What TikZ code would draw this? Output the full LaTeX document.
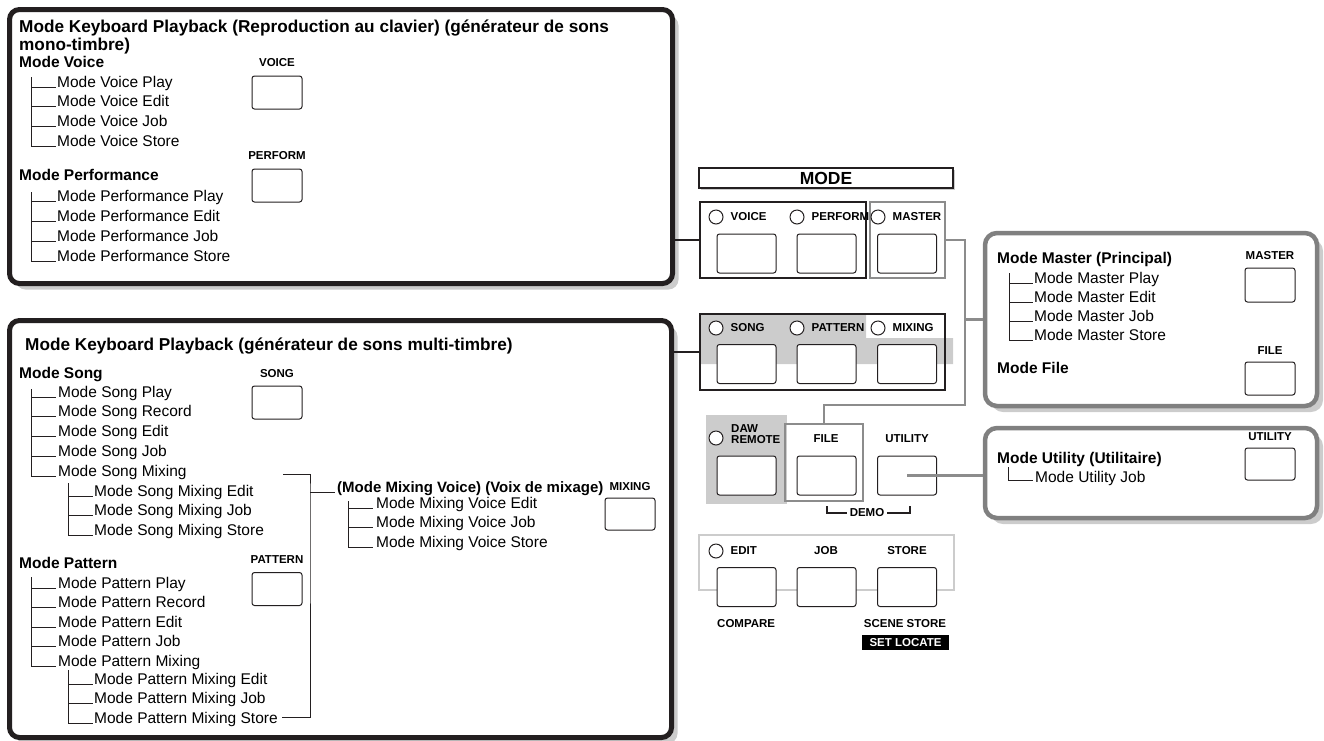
\documentclass[tikz,border=0pt]{standalone}
\usepackage{fontspec}
\setmainfont{Liberation Sans}
\usetikzlibrary{shadows,positioning}

\definecolor{ink}{HTML}{231F20}
\definecolor{panelgray}{gray}{0.80}
\definecolor{wiregray}{gray}{0.55}
\definecolor{framegray}{gray}{0.50}
\definecolor{shade}{gray}{0.80}

\newcommand{\itemsize}{\fontsize{15.5}{18}\selectfont}
\newcommand{\keysize}{\bfseries\fontsize{11.5}{12}\selectfont}

\begin{document}
\begin{tikzpicture}[x=1pt,y=-1pt,
    every node/.style={inner sep=0pt},
    bigbox/.style={draw=ink, line width=5pt, rounded corners=10pt, fill=white,
        drop shadow={shadow xshift=6pt, shadow yshift=-6pt, fill=shade, opacity=1}},
    sidebox/.style={bigbox, draw=framegray, line width=4.5pt, rounded corners=12pt},
    title/.style={anchor=base west, font=\bfseries\fontsize{17.2}{18}\selectfont},
    head/.style={anchor=base west, font=\bfseries\itemsize},
    item/.style={anchor=base west, font=\itemsize},
    tree/.style={draw=ink, line width=0.9pt},
    keylbl/.style={font=\keysize},
    smallkey/.style={draw=ink, line width=1pt, rounded corners=2.5pt, fill=white,
        minimum width=50pt, minimum height=33pt},
    key/.style={smallkey, minimum width=59pt, minimum height=39pt},
    led/.style={circle, draw=ink, line width=1pt, fill=white, minimum size=14pt},
    group/.style={draw=ink, line width=2pt},
    graygroup/.style={draw=wiregray, line width=2pt},
    wire/.style={draw=ink, line width=1.8pt},
    graywire/.style={draw=wiregray, line width=2.5pt}]
    \useasboundingbox (0,0) rectangle (1324,740);

    % mono-timbre
    \node[bigbox, anchor=north west, minimum width=663pt, minimum height=274pt] (mono) at (7,7) {};
    \node[title] (monotitle) at (19,32) {Mode Keyboard Playback (Reproduction au clavier) (générateur de sons};
    \node[title] (monotitleb) at (19,50) {mono-timbre)};
    \node[head] (voicehead) at (19,67) {Mode Voice};
    \coordinate (voicetree) at (31,77);
    \foreach \w [count=\i] in {Play,Edit,Job,Store} {
        \node[item] (voice\i) at (57,{67.3+19.7*\i}) {Mode Voice \w};
        \draw[tree] (voicetree) |- ([xshift=-1pt]voice\i.base west);
    }
    \node[keylbl] (voicelbl) at (277,63) {VOICE};
    \node[smallkey] (voicekey) at (277,92.5) {};
    \node[keylbl] (perflbl) at (277,156) {PERFORM};
    \node[smallkey] (perfkey) at (277,185.5) {};
    \node[head] (perfhead) at (19,180) {Mode Performance};
    \coordinate (perftree) at (31,192);
    \foreach \w [count=\i] in {Play,Edit,Job,Store} {
        \node[item] (perf\i) at (57,{181+20*\i}) {Mode Performance \w};
        \draw[tree] (perftree) |- ([xshift=-1pt]perf\i.base west);
    }

    % multi-timbre
    \node[bigbox, anchor=north west, minimum width=662pt, minimum height=417pt] (multi) at (7,318) {};
    \node[title] (multititle) at (25,350) {Mode Keyboard Playback (générateur de sons multi-timbre)};
    \node[head] (songhead) at (19,378) {Mode Song};
    \node[keylbl] (songlbl) at (277,374) {SONG};
    \node[smallkey] (songkey) at (277,402.5) {};
    \coordinate (songtree) at (31,389);
    \foreach \w [count=\i] in {Play,Record,Edit,Job,Mixing} {
        \node[item] (song\i) at (58,{377.25+19.75*\i}) {Mode Song \w};
        \draw[tree] (songtree) |- ([xshift=-2pt]song\i.base west);
    }
    \coordinate (songmixtree) at (68,483);
    \foreach \w [count=\i] in {Edit,Job,Store} {
        \node[item] (songmix\i) at (94,{476.5+19.5*\i}) {Mode Song Mixing \w};
        \draw[tree] (songmixtree) |- ([xshift=-1pt]songmix\i.base west);
    }
    \node[head] (pathead) at (19,568) {Mode Pattern};
    \node[keylbl] (patlbl) at (277,560) {PATTERN};
    \node[smallkey] (patkey) at (277,589) {};
    \coordinate (pattree) at (31,577);
    \foreach \w [count=\i] in {Play,Record,Edit,Job,Mixing} {
        \node[item] (pat\i) at (58,{568.5+19.5*\i}) {Mode Pattern \w};
        \draw[tree] (pattree) |- ([xshift=-2pt]pat\i.base west);
    }
    \coordinate (patmixtree) at (68,670);
    \foreach \w [count=\i] in {Edit,Job,Store} {
        \node[item] (patmix\i) at (94,{664.5+19.5*\i}) {Mode Pattern Mixing \w};
        \draw[tree] (patmixtree) |- ([xshift=-1pt]patmix\i.base west);
    }
    \coordinate (brtop) at (283,474);
    \coordinate (brmid) at (310,492);
    \coordinate (brbot) at (282,717);
    \draw[tree] (brtop) -| (brmid) |- (brbot);
    \node[head, font=\bfseries\fontsize{15}{18}\selectfont] (mixhead) at (337,492) {(Mode Mixing Voice) (Voix de mixage)};
    \draw[tree] (brmid) -- ([xshift=-2pt]mixhead.base west);
    \node[keylbl] (mixlbl) at (630,487) {MIXING};
    \node[smallkey, minimum height=32pt] (mixkey) at (630,514) {};
    \coordinate (mixtree) at (348,501);
    \foreach \w [count=\i] in {Edit,Job,Store} {
        \node[item] (mixv\i) at (376,{488.5+19.5*\i}) {Mode Mixing Voice \w};
        \draw[tree] (mixtree) |- ([xshift=-3pt]mixv\i.base west);
    }

    % panel
    \node[draw=ink, line width=1.2pt, minimum width=254pt, minimum height=20pt, fill=white,
        font=\bfseries\fontsize{17.5}{18}\selectfont,
        drop shadow={shadow xshift=2pt, shadow yshift=-2pt, fill=shade, opacity=1}] (mode) at (826,178) {MODE};
    \node[group, minimum width=166pt, minimum height=76pt] (grpvoice) at (783,240) {};
    \node[graygroup, minimum width=75pt, minimum height=76pt] (grpmaster) at (907.5,240) {};
    \foreach \n/\x/\w in {voice/716/VOICE, perform/797/PERFORM, master/878/MASTER} {
        \node[led] (led\n) at (\x,217) {};
        \node[keylbl, right=7pt of led\n] (lbl\n) {\w};
    }
    \foreach \n/\x in {voice/746.5, perform/826.5, master/907}
        \node[key] (key\n) at (\x,253.5) {};

    \fill[panelgray] (701,315) -- (866,315) -- (866,338) -- (953,338) -- (953,364) -- (701,364) -- cycle;
    \node[group, minimum width=245pt, minimum height=76pt] (grpsong) at (822.5,352) {};
    \foreach \n/\x/\w in {song/716/SONG, pattern/797/PATTERN, mixing/878/MIXING} {
        \node[led] (led\n) at (\x,328) {};
        \node[keylbl, right=7pt of led\n] (lbl\n) {\w};
    }
    \foreach \n/\x in {song/746.5, pattern/826.5, mixing/907}
        \node[key] (key\n) at (\x,364) {};

    \fill[panelgray] (706,415) rectangle (787,504);
    \node[graygroup, minimum width=78pt, minimum height=77pt] (grpfile) at (824,462.5) {};
    \node[led] (leddaw) at (716,438) {};
    \node[keylbl, align=left, anchor=west, font=\bfseries\fontsize{11.5}{10.5}\selectfont] (lbldaw) at (731,434) {DAW\\REMOTE};
    \node[keylbl] (lblfile) at (826,439) {FILE};
    \node[keylbl] (lblutil) at (907,439) {UTILITY};
    \foreach \n/\x in {daw/746.5, file/826.5, util/907}
        \node[key] (key\n) at (\x,475.5) {};
    \node[keylbl] (demo) at (867,513) {DEMO};
    \coordinate (demol) at (827,506);
    \coordinate (demor) at (910,506);
    \draw[tree, line width=1.3pt] (demol) |- ([xshift=-3pt]demo.west);
    \draw[tree, line width=1.3pt] (demor) |- ([xshift=3pt]demo.east);

    \node[draw=shade, line width=2pt, minimum width=255pt, minimum height=55pt] (grpedit) at (826.5,562.5) {};
    \node[led] (ledit) at (716,551) {};
    \node[keylbl, right=7pt of ledit] (lbledit) {EDIT};
    \node[keylbl] (lbljob) at (826,551) {JOB};
    \node[keylbl] (lblstore) at (907,551) {STORE};
    \foreach \n/\x in {edit/746.5, job/826.5, store/907}
        \node[key] (key\n) at (\x,587) {};
    \node[keylbl, anchor=west] (lblcompare) at (717,624) {COMPARE};
    \node[keylbl] (lblscene) at (905,624) {SCENE STORE};
    \node[keylbl, fill=black, text=white, minimum width=87pt, minimum height=15pt] (lbllocate) at (905.5,642.5) {SET LOCATE};

    \draw[wire] (mono.east |- grpvoice.west) -- (grpvoice.west);
    \draw[wire] (multi.east |- grpsong.west) -- (grpsong.west);

    % master / file
    \node[sidebox, minimum width=332pt, minimum height=173pt] (mastermode) at (1151,319.5) {};
    \node[head] (masterhead) at (997,263) {Mode Master (Principal)};
    \coordinate (mastertree) at (1009,273);
    \foreach \w [count=\i] in {Play,Edit,Job,Store} {
        \node[item] (master\i) at (1034,{263.7+19.3*\i}) {Mode Master \w};
        \draw[tree] (mastertree) |- ([xshift=-1pt]master\i.base west);
    }
    \node[keylbl] (mlbl) at (1270,256) {MASTER};
    \node[smallkey, minimum height=34pt] (mkey) at (1270,285) {};
    \node[head] (filehead) at (997,373) {Mode File};
    \node[keylbl] (flbl) at (1270,351) {FILE};
    \node[smallkey] (fkey) at (1270,378.5) {};

    % utility
    \node[sidebox, minimum width=332pt, minimum height=90pt] (utilmode) at (1151,473) {};
    \node[head] (utilhead) at (997,463) {Mode Utility (Utilitaire)};
    \node[item] (utiljob) at (1035,482) {Mode Utility Job};
    \coordinate (utiltree) at (1008,467);
    \draw[tree] (utiltree) |- ([xshift=-2pt,yshift=1.5pt]utiljob.base west);
    \node[keylbl] (ulbl) at (1270,437) {UTILITY};
    \node[smallkey, minimum height=32pt] (ukey) at (1270,464) {};

    \coordinate (elbow) at (965,405);
    \draw[graywire] (grpmaster.east) -| (elbow) -| (grpfile.north);
    \draw[graywire] (mastermode.west -| elbow) -- (mastermode.west);
    \draw[graywire] (keyutil.center) -- (utilmode.west |- keyutil.center);
\end{tikzpicture}
\end{document}
